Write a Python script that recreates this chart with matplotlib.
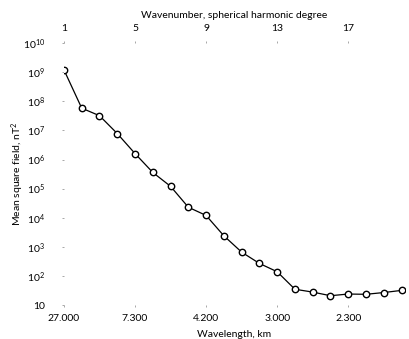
import matplotlib
matplotlib.use("Agg")
import matplotlib.pyplot as plt

# Spherical harmonic degree vs mean square field (nT^2)
degrees = [1, 2, 3, 4, 5, 6, 7, 8, 9, 10, 11, 12, 13, 14, 15, 16, 17, 18, 19, 20]
power = [1.2e9, 5.8e7, 3.2e7, 7.8e6, 1.6e6, 3.6e5, 1.2e5, 2.3e4, 1.2e4, 2.4e3,
         6.6e2, 2.7e2, 1.4e2, 35, 28, 21, 24, 23.5, 27, 32]

top_ticks = [1, 5, 9, 13, 17]
top_labels = ["1", "5", "9", "13", "17"]
bottom_labels = ["27.000", "7.300", "4.200", "3.000", "2.300"]
y_ticks = [1e1, 1e2, 1e3, 1e4, 1e5, 1e6, 1e7, 1e8, 1e9, 1e10]
y_labels = ["10", "$10^2$", "$10^3$", "$10^4$", "$10^5$", "$10^6$",
            "$10^7$", "$10^8$", "$10^9$", "$10^{10}$"]

plt.rcParams["font.family"] = ["Lato", "DejaVu Sans"]
plt.rcParams["mathtext.fontset"] = "custom"
plt.rcParams["mathtext.rm"] = "Lato"
plt.rcParams["mathtext.it"] = "Lato"

fs = 7.5

fig = plt.figure(figsize=(4.10, 3.39), dpi=100)
ax = fig.add_axes([0.156, 0.10, 0.832, 0.773])

ax.plot(degrees, power, color="black", linewidth=0.9, marker="o",
        markersize=4.6, markerfacecolor="white", markeredgecolor="black",
        markeredgewidth=1.0, zorder=3)

ax.set_yscale("log")
ax.set_ylim(10, 1e10)
ax.set_xlim(1, 20.2)

for s in ax.spines.values():
    s.set_visible(False)

ax.set_yticks(y_ticks)
ax.set_yticklabels(y_labels, fontsize=fs)
ax.yaxis.set_minor_locator(matplotlib.ticker.NullLocator())
ax.tick_params(axis="y", length=1.5, width=0.6, color="#999999", pad=12)

ax.set_xticks(top_ticks)
ax.set_xticklabels(bottom_labels, fontsize=fs)
ax.tick_params(axis="x", length=1.5, width=0.6, color="#999999", pad=5)
ax.set_xlabel("Wavelength, km", fontsize=fs)
ax.xaxis.set_label_coords(0.5, -0.095)
ax.set_ylabel("Mean square field, nT$^2$", fontsize=fs)
ax.yaxis.set_label_coords(-0.11, 0.5)

top = ax.twiny()
top.set_xlim(ax.get_xlim())
for s in top.spines.values():
    s.set_visible(False)
top.set_xticks(top_ticks)
top.set_xticklabels(top_labels, fontsize=fs)
top.tick_params(axis="x", length=1.5, width=0.6, color="#999999", pad=6)
top.set_xlabel("Wavenumber, spherical harmonic degree", fontsize=fs)
top.xaxis.set_label_coords(0.5, 1.095)

fig.savefig("out.png", dpi=100, facecolor="white")
